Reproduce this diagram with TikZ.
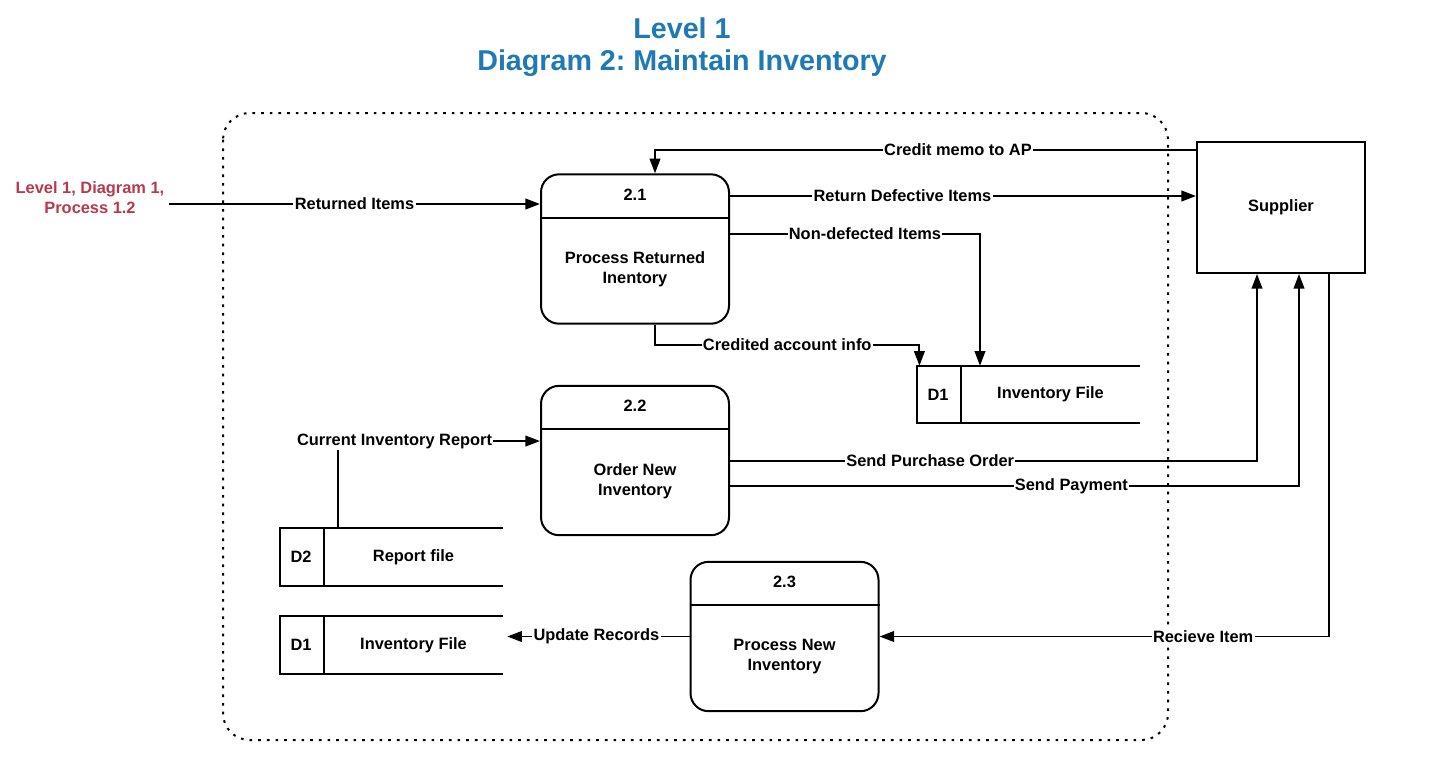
\documentclass[tikz,border=0pt]{standalone}
\usepackage{fontspec}
\setmainfont{Liberation Sans}
\usetikzlibrary{arrows.meta}
\frenchspacing
\definecolor{titleblue}{HTML}{1F7AB4}
\definecolor{extred}{HTML}{B8394B}
\tikzset{
  proc/.style={draw, line width=1.5pt, rounded corners=13.5pt, minimum width=141pt, minimum height=112pt},
  ent/.style={draw, line width=1.5pt, minimum width=126pt, minimum height=98.25pt},
  store/.style={minimum width=167.25pt, minimum height=42.75pt, inner sep=0pt},
  flow/.style={line width=1.4pt, -{Triangle[length=11pt,width=8pt]}},
  lbl/.style={fill=white, inner sep=1pt},
}
\begin{document}
\begin{tikzpicture}[x=0.75pt, y=-0.75pt,
    every node/.style={font=\bfseries\fontsize{12.3}{15}\selectfont}]
  \useasboundingbox (0,0) rectangle (1430,769);
  % title
  \node[font=\bfseries\fontsize{21.5}{26}\selectfont, text=titleblue] (t1) at (682,28) {Level 1};
  \node[font=\bfseries\fontsize{21.5}{26}\selectfont, text=titleblue] (t2) at (682,63) {Diagram 2: Maintain Inventory};
  % boundary
  \draw[line width=1.5pt, dash pattern=on 2pt off 4.5pt, rounded corners=20pt] (223,113) rectangle (1168,740);
  % processes
  \node[proc] (p21) at (635,249) {};
  \node[proc] (p22) at (635,460.5) {};
  \node[proc] (p23) at (784.5,636.5) {};
  \foreach \p/\n/\t in {p21/2.1/Process Returned\\Inentory, p22/2.2/Order New\\Inventory, p23/2.3/Process New\\Inventory} {
    \draw[line width=1.5pt] ([yshift=-33.4pt]\p.north west) -- ([yshift=-33.4pt]\p.north east);
    \node (\p id) at ([yshift=-15.75pt]\p.north) {\n};
    \node[align=center] (\p txt) at ([yshift=-15.3pt]\p.center) {\t};
  }
  % stores
  \node[store] (d1t) at (1028.5,394.5) {};
  \node[store] (d2) at (391.5,557) {};
  \node[store] (d1b) at (391.5,645) {};
  \foreach \s/\k/\n in {d1t/D1/Inventory File, d2/D2/Report file, d1b/D1/Inventory File} {
    \draw[line width=1.5pt] (\s.north east) -- (\s.north west) -- (\s.south west) -- (\s.south east);
    \draw[line width=1.5pt] ([xshift=33.4pt]\s.north west) -- ([xshift=33.4pt]\s.south west);
    \node (\s k) at ([xshift=16pt]\s.west) {\k};
    \node (\s n) at ([xshift=16.5pt]\s.center) {\n};
  }
  % external entities
  \node[ent] (sup) at (1281,207.5) {Supplier};
  \node[text=extred, align=center] (ext) at (90,198) {Level 1, Diagram 1,\\Process 1.2};
  % flows
  \draw[flow] ([yshift=-4.5pt]ext.east) -- ([yshift=-4.5pt]ext.east -| p21.west) node[lbl, pos=.5] (f1) {Returned Items};
  \draw[flow] ([yshift=-6.75pt]sup.north west) -| ([xshift=15pt]p21.north) node[lbl, pos=.22] (f2) {Credit memo to AP};
  \draw[flow] ([yshift=39.75pt]p21.east) -- ([yshift=39.75pt]p21.east -| sup.west) node[lbl, pos=.37] (f3) {Return Defective Items};
  \draw[flow] ([yshift=11.25pt]p21.east) -| ([xshift=-36.4pt]d1t.north) node[lbl, pos=.27] (f4) {Non-defected Items};
  \draw[flow] ([xshift=15pt]p21.south) |- ([xshift=2pt,yshift=15.75pt]d1t.north west) node[lbl, pos=.75] (f5) {Credited account info} -- ([xshift=2pt]d1t.north west);
  \draw[flow] ([yshift=-0.4pt]p22.east) -| ([xshift=-18pt]sup.south) node[lbl, pos=.19] (f6) {Send Purchase Order};
  \draw[flow] ([yshift=-19.1pt]p22.east) -| ([xshift=13.5pt]sup.south) node[lbl, pos=.3] (f7) {Send Payment};
  \draw[flow] ([xshift=36pt]sup.south) |- (p23.east) node[lbl, pos=.64] (f8) {Recieve Item};
  \draw[flow, shorten >=3pt] (p23.west) -- (p23.west -| d1b.east) node[lbl, pos=.5] (f9) {Update Records};
  \draw[flow] ([xshift=-40.1pt]d2.north) |- ([yshift=14.6pt]p22.west) node[lbl, pos=.64] (f10) {Current Inventory Report};
\end{tikzpicture}
\end{document}
